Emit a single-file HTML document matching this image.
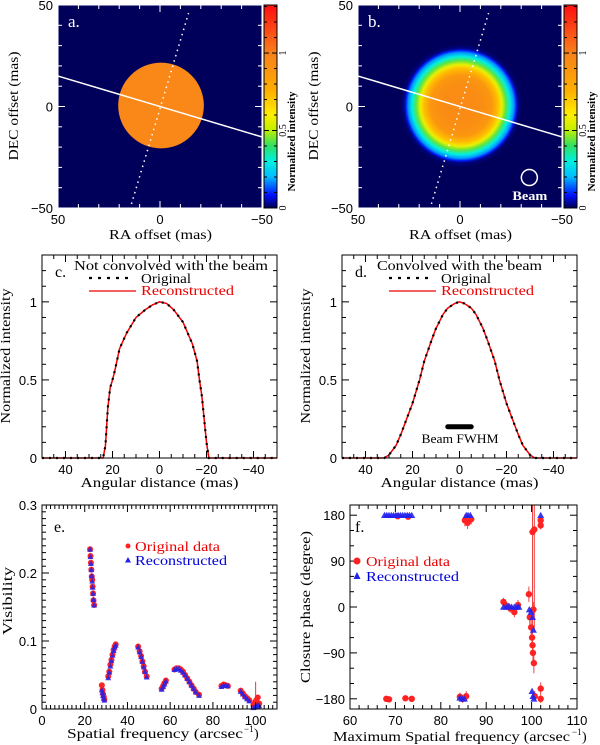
<!DOCTYPE html>
<html><head><meta charset="utf-8"><style>
body{margin:0;background:#fff;width:600px;height:745px;overflow:hidden}
svg{display:block}
text{font-family:"Liberation Serif",serif;fill:#000}
.tk{font-family:"Liberation Sans",sans-serif;font-size:13px}
</style></head><body>
<svg id="fig" width="600" height="745" viewBox="0 0 600 745" xmlns="http://www.w3.org/2000/svg"></svg>
<script>
// ---- data ----
const profCx = [50,40,30,25,24,23,22,21,20,19,17,14,10,6,3,0,-3,-6,-10,-14,-16,-17,-18,-19,-20,-21,-22,-30,-40,-50];
const profCy = [0,0,0,0,0,0.08,0.32,0.45,0.5,0.56,0.7,0.8,0.9,0.95,0.98,1,0.99,0.95,0.87,0.73,0.62,0.5,0.4,0.25,0.1,0,0,0,0,0];
const profDx = [50,40,35,32,30,27,25,22,20,17,15,12,10,7,5,2,0,-2,-5,-7,-10,-12,-15,-17,-20,-22,-25,-27,-30,-32,-35,-40,-50];
const profDy = [0,0,0,0,0.02,0.08,0.15,0.27,0.35,0.5,0.62,0.75,0.83,0.92,0.96,0.99,1,0.99,0.96,0.92,0.83,0.75,0.62,0.5,0.35,0.27,0.15,0.08,0.02,0,0,0,0];
const imgBr = [0,10,15,18,20,22,24,26,27,28,30];
const imgBv = [0.95,0.93,0.88,0.72,0.57,0.43,0.3,0.17,0.09,0.02,0];
const visFreq = [22.5,22.7,22.9,23.1,23.3,23.5,23.7,23.9,24.1,24.4, 28,28.3,28.6,28.9,29.2, 31,31.5,32,32.5,33,33.5,34,34.5, 45,45.7,46.4,47,47.6,48.2,49, 56,56.7,57.3,58, 62,63,64,65,66,67,68,69,70,71,72,73.5, 84,85,86,87, 93,94,95,96,97, 99,99.7,100.3,101,101.7];
const visOrig = [0.235,0.225,0.215,0.205,0.195,0.19,0.18,0.17,0.16,0.153, 0.035,0.028,0.022,0.018,0.014, 0.048,0.055,0.065,0.072,0.08,0.087,0.092,0.095, 0.092,0.085,0.078,0.07,0.063,0.055,0.048, 0.03,0.034,0.038,0.042, 0.058,0.06,0.06,0.058,0.055,0.05,0.045,0.04,0.035,0.03,0.025,0.021, 0.034,0.036,0.035,0.034, 0.027,0.023,0.019,0.016,0.013, 0.006,0.01,0.013,0.017,0.008];
const visRecon = [0.235,0.224,0.214,0.205,0.196,0.188,0.179,0.17,0.161,0.153, 0.028,0.024,0.02,0.016,0.013, 0.046,0.054,0.063,0.071,0.079,0.086,0.091,0.094, 0.091,0.084,0.077,0.07,0.062,0.055,0.047, 0.029,0.033,0.037,0.041, 0.058,0.059,0.059,0.057,0.054,0.05,0.045,0.04,0.035,0.03,0.025,0.02, 0.033,0.035,0.035,0.034, 0.026,0.022,0.018,0.015,0.012, 0.002,0.003,0.004,0.006,0.005];
const cpFreqO = [68,68.6,72.2,73.6,70.5,72.8,84.2,84.8,85.6,85.3,85.9,86.7,93.8,94.5,95.3,96.2,97,99.4,99.6,99.9,100.1,100.2,100.3,100.4,100.5,100.7,100.2,100.6,102,102,102,102];
const cpOrig = [-180,-181,-179,-180,178,177,-176,-180,-175,170,165,172,10,2,-3,-10,4,25,-20,-40,-60,-75,-90,-5,-110,-175,147,152,170,160,-160,-180];
const cpErr = [3,3,3,3,3,3,8,8,10,12,12,10,8,8,8,10,10,15,15,15,15,15,20,15,20,10,200,200,8,8,12,8];
const cpFreqR = [67.6,68.1,68.6,69.1,69.6,70.1,70.6,71.1,71.6,72.1,72.6,73.1,73.6,84.2,84.7,85.2,85.6,86,86.5,93.8,94.4,95,95.6,96.2,96.8,97.2,99.5,99.9,100.2,100.4,100.1,100.3,100.5,102];
const cpRecon = [180,180,180,180,180,180,180,180,180,180,180,180,180,-178,-180,-180,180,180,180,0,0,2,0,0,0,0,-5,-10,-20,-45,-165,-175,-180,180];
const cbTicks = [0,0.5,1];

const NS='http://www.w3.org/2000/svg';
const svg=document.getElementById('fig');
function el(tag,attrs,parent){const e=document.createElementNS(NS,tag);for(const k in attrs)e.setAttribute(k,attrs[k]);(parent||svg).appendChild(e);return e;}
function txt(s,attrs,parent,tl){const e=el('text',attrs,parent);e.textContent=s;if(tl){e.setAttribute('textLength',tl);e.setAttribute('lengthAdjust','spacingAndGlyphs');}return e;}
function scale(d0,d1,p0,p1){return v=>p0+(v-d0)*(p1-p0)/(d1-d0);}
const cmap=[[0,[0,0,90]],[0.08,[0,16,255]],[0.2,[0,190,255]],[0.3,[0,240,224]],[0.4,[48,224,96]],[0.5,[192,240,0]],[0.6,[255,238,0]],[0.75,[255,176,0]],[1.0,[248,128,28]],[1.3,[255,16,16]]];
function color(v){v=Math.max(0,Math.min(1.3,v));for(let i=1;i<cmap.length;i++){if(v<=cmap[i][0]){const a=cmap[i-1],b=cmap[i],t=(v-a[0])/(b[0]-a[0]);return 'rgb('+a[1].map((c,j)=>Math.round(c+(b[1][j]-c)*t)).join(',')+')';}}return 'rgb(255,16,16)';}

function ticks(g,L,R,T,B,sx,sy,xr,yr,xmaj,xmin,ymaj,ymin,col){
  const step=(a,b,s)=>{const o=[];const lo=Math.min(a,b),hi=Math.max(a,b);for(let v=Math.ceil(lo/s-1e-9)*s;v<=hi+1e-9;v+=s)o.push(+v.toFixed(6));return o;};
  step(xr[0],xr[1],xmin).forEach(v=>{const x=sx(v);const isM=Math.abs(v/xmaj-Math.round(v/xmaj))<1e-6;const l=isM?7:4;el('line',{x1:x,y1:B,x2:x,y2:B-l,stroke:col,'stroke-width':1},g);el('line',{x1:x,y1:T,x2:x,y2:T+l,stroke:col,'stroke-width':1},g);});
  step(yr[0],yr[1],ymin).forEach(v=>{const y=sy(v);const isM=Math.abs(v/ymaj-Math.round(v/ymaj))<1e-6;const l=isM?7:4;el('line',{x1:L,y1:y,x2:L+l,y2:y,stroke:col,'stroke-width':1},g);el('line',{x1:R,y1:y,x2:R-l,y2:y,stroke:col,'stroke-width':1},g);});
}
function labels(g,sx,sy,B,L,xs,ys,fmt){
  xs.forEach(v=>txt(fmt(v),{x:sx(v),y:B+16,'text-anchor':'middle',class:'tk'},g));
  ys.forEach(v=>txt(fmt(v),{x:L-5,y:sy(v)+5,'text-anchor':'end',class:'tk'},g));
}
const fm=v=>(v<0?'\u2212'+(-v):''+v);

// ---- image panels a, b ----
function imagePanel(off,name,conv){
  const L=58+off,R=262+off,T=5,B=208;
  const g=el('g',{},svg);
  
  
  const sx=scale(50,-50,L,R),sy=scale(-50,50,B,T);
  el('rect',{x:L,y:T,width:R-L,height:B-T,fill:color(0)},g);
  if(!conv){
    const d=el('circle',{cx:sx(-0.5),cy:sy(0.5),r:(sx(0)-sx(21)),fill:color(0.96)},g);
    
    
  } else {
    const gid='rg'+name;const defs=el('defs',{},g);
    const rg=el('radialGradient',{id:gid,cx:'50%',cy:'50%',r:'50%'},defs);
    const rmax=imgBr[imgBr.length-1];
    imgBr.forEach((r,i)=>el('stop',{offset:(r/rmax*100)+'%','stop-color':color(imgBv[i])},rg));
    const c=el('circle',{cx:sx(-0.5),cy:sy(0.5),r:(sx(0)-sx(rmax)),fill:'url(#'+gid+')'},g);
    
    
    const bm=el('circle',{cx:sx(-34),cy:sy(-35),r:8,fill:'none',stroke:'#fff','stroke-width':1.5},g);
    
    
    txt('Beam',{x:sx(-34)-17,y:sy(-46),'font-size':13,'font-weight':'bold',style:'fill:#fff'},g,35);
  }
  el('line',{x1:sx(50),y1:sy(15),x2:sx(-50),y2:sy(-15),stroke:'#fff','stroke-width':1.5},g);
  el('line',{x1:sx(14),y1:sy(-48),x2:sx(-14),y2:sy(46),stroke:'#fff','stroke-width':1.5,'stroke-dasharray':'1.5 4'},g);
  ticks(g,L,R,T,B,sx,sy,[50,-50],[-50,50],50,10,50,10,'#fff');
  el('rect',{x:L,y:T,width:R-L,height:B-T,fill:'none',stroke:'#fff','stroke-width':1},g);
  txt(name+'.',{x:L+10,y:T+22,'font-size':17,style:'fill:#fff'},g);
  labels(g,sx,sy,B,L,[50,0,-50],[-50,0,50],fm);
  txt('RA offset (mas)',{x:(L+R)/2-51,y:239,'font-size':14},g,103);
  txt('DEC offset (mas)',{x:-54,y:0,'font-size':14,transform:`translate(${L-40},${(T+B)/2}) rotate(-90)`},g,109);
  // colorbar
  const cL=264+off,cR=277+off;const cy=scale(0,1.31,B,T);
  const cb=el('g',{},g);
  
  
  for(let v=0;v<1.31;v+=0.01){el('rect',{x:cL,y:cy(v+0.01)-0.3,width:cR-cL,height:cy(v)-cy(v+0.01)+0.6,fill:color(v)},cb);}
  el('rect',{x:cL,y:T,width:cR-cL,height:B-T,fill:'none',stroke:'#000','stroke-width':1},cb);
  for(let v=0;v<=1.3;v+=0.1){const y=cy(v),l=Math.abs(v*2-Math.round(v*2))<1e-6?5:3;el('line',{x1:cL,y1:y,x2:cL+l,y2:y,stroke:'#000'},cb);el('line',{x1:cR,y1:y,x2:cR-l,y2:y,stroke:'#000'},cb);}
  cbTicks.forEach(v=>txt(''+v,{x:0,y:0,'text-anchor':'middle','font-size':10,transform:`translate(${cR+9},${cy(v)}) rotate(-90)`},cb));
  txt('Normalized intensity',{x:0,y:0,'text-anchor':'middle','font-size':10,'font-weight':'bold',transform:`translate(${cR+18},${(T+B)/2+35}) rotate(-90)`},cb,100);
}
imagePanel(0,'a',false);
imagePanel(300,'b',true);

// ---- profile panels c, d ----
function profPanel(off,name,title,tw,xs,ys,beam){
  const L=42+off,R=277+off,T=255,B=458;
  const g=el('g',{},svg);
  
  
  const sx=scale(50,-50,L,R),sy=scale(0,1.3,B,T);
  const pts=xs.map((x,i)=>sx(x)+','+sy(ys[i])).join(' ');
  const rl=el('polyline',{points:pts,fill:'none',stroke:'#e00','stroke-width':1.5},g);
  
  
  const ol=el('polyline',{points:pts,fill:'none',stroke:'#000','stroke-width':2.2,'stroke-dasharray':'2 5'},g);
  
  
  ticks(g,L,R,T,B,sx,sy,[50,-50],[0,1.3],20,5,0.5,0.1,'#000');
  el('rect',{x:L,y:T,width:R-L,height:B-T,fill:'none',stroke:'#000','stroke-width':1},g);
  labels(g,sx,sy,B,L,[40,20,0,-20,-40],[0,0.5,1],fm);
  txt('Angular distance (mas)',{x:(L+R)/2-79,y:487,'font-size':14},g,158);
  txt('Normalized intensity',{x:-67,y:0,'font-size':14,transform:`translate(${L-32},${(T+B)/2}) rotate(-90)`},g,135);
  txt(name+'.',{x:L+13,y:T+22,'font-size':16},g);
  txt(title,{x:L+(name==='c'?32:35),y:T+15,'font-size':14},g,tw);
  const lg=el('g',{},g);
  
  
  el('line',{x1:L+47,y1:T+23,x2:L+88,y2:T+23,stroke:'#000','stroke-width':2.2,'stroke-dasharray':'3 6'},lg);
  txt('Original',{x:L+99,y:T+28,'font-size':14},lg,50);
  el('line',{x1:L+47,y1:T+36,x2:L+94,y2:T+36,stroke:'#e00','stroke-width':1.2},lg);
  txt('Reconstructed',{x:L+99,y:T+40,'font-size':14,style:'fill:#e00'},lg,93);
  if(beam){
    const b=el('line',{x1:sx(5),y1:sy(0.2),x2:sx(-5),y2:sy(0.2),stroke:'#000','stroke-width':5,'stroke-linecap':'round'},g);
    
    
    txt('Beam FWHM',{x:sx(0)-38,y:sy(0.2)+16,'font-size':13},g,77);
  }
}
profPanel(0,'c','Not convolved with the beam',194,profCx,profCy,false);
profPanel(300,'d','Convolved with the beam',165,profDx,profDy,true);

// ---- visibility panel e ----
(function(){
  const L=42,R=277,T=505,B=709;
  const g=el('g',{},svg);
  
  
  const sx=scale(0,110,L,R),sy=scale(0,0.3,B,T);
  el('line',{x1:sx(100),y1:sy(0),x2:sx(100),y2:sy(0.04),stroke:'#e33','stroke-width':1},g);
  visFreq.forEach((f,i)=>{
    const c=el('circle',{cx:sx(f),cy:sy(visOrig[i]),r:3,fill:'#f22'},g);
    
    
  });
  visFreq.forEach((f,i)=>{
    const x=sx(f),y=sy(visRecon[i]);
    const t=el('polygon',{points:`${x},${y-3} ${x-3},${y+2.5} ${x+3},${y+2.5}`,fill:'#22e','fill-opacity':0.85},g);
    
    
  });
  ticks(g,L,R,T,B,sx,sy,[0,110],[0,0.3],20,2,0.1,0.01,'#000');
  el('rect',{x:L,y:T,width:R-L,height:B-T,fill:'none',stroke:'#000','stroke-width':1},g);
  labels(g,sx,sy,B,L,[0,20,40,60,80,100],[0,0.1,0.2,0.3],v=>''+v);
  txt('e.',{x:L+12,y:T+27,'font-size':16},g);
  txt('Spatial frequency (arcsec',{x:67,y:738,'font-size':14},g,176);
  txt('\u22121',{x:244,y:732,'font-size':9},g);
  txt(')',{x:254,y:738,'font-size':14},g);
  txt('Visibility',{x:-34,y:0,'font-size':14,transform:`translate(12,601) rotate(-90)`},g,68);
  const lg=el('g',{},g);
  
  
  el('circle',{cx:128,cy:546,r:2.5,fill:'#f22'},lg);
  txt('Original data',{x:135,y:551,'font-size':14,style:'fill:#e00'},lg,85);
  el('polygon',{points:'128,557 125,562.5 131,562.5',fill:'#22e'},lg);
  txt('Reconstructed',{x:135,y:565,'font-size':14,style:'fill:#00d'},lg,92);
})();

// ---- closure phase panel f ----
(function(){
  const L=350,R=577,T=505,B=709;
  const g=el('g',{},svg);
  
  
  const sx=scale(60,110,L,R),sy=scale(-200,200,B,T);
  const defs=el('defs',{},g);
  const cp=el('clipPath',{id:'cf'},defs);
  el('rect',{x:L,y:T,width:R-L,height:B-T},cp);
  const cg=el('g',{'clip-path':'url(#cf)'},g);
  cpFreqO.forEach((f,i)=>{
    el('line',{x1:sx(f),y1:sy(cpOrig[i]-cpErr[i]),x2:sx(f),y2:sy(cpOrig[i]+cpErr[i]),stroke:'#e44','stroke-width':1},cg);
  });
  cpFreqO.forEach((f,i)=>{
    const c=el('circle',{cx:sx(f),cy:sy(cpOrig[i]),r:3.2,fill:'#f22'},cg);
    
    
  });
  cpFreqR.forEach((f,i)=>{
    const x=sx(f),y=sy(cpRecon[i]);
    const t=el('polygon',{points:`${x},${y-3.5} ${x-3.5},${y+2.8} ${x+3.5},${y+2.8}`,fill:'#22e','fill-opacity':0.9},cg);
    
    
  });
  ticks(g,L,R,T,B,sx,sy,[60,110],[-200,200],10,2,90,30,'#000');
  el('rect',{x:L,y:T,width:R-L,height:B-T,fill:'none',stroke:'#000','stroke-width':1},g);
  labels(g,sx,sy,B,L,[60,70,80,90,100,110],[-180,-90,0,90,180],fm);
  txt('f.',{x:L+5,y:T+27,'font-size':16},g);
  txt('Maximum Spatial frequency (arcsec',{x:333,y:741,'font-size':14},g,237);
  txt('\u22121',{x:572,y:735,'font-size':9},g);
  txt(')',{x:582,y:741,'font-size':14},g);
  txt('Closure phase (degree)',{x:-76,y:0,'font-size':14,transform:`translate(310,607) rotate(-90)`},g,152);
  const lg=el('g',{},g);
  
  
  el('circle',{cx:357,cy:561,r:3.5,fill:'#f22'},lg);
  txt('Original data',{x:366,y:566,'font-size':14,style:'fill:#e00'},lg,84);
  el('polygon',{points:'357,572 353.5,579 360.5,579',fill:'#22e'},lg);
  txt('Reconstructed',{x:366,y:581,'font-size':14,style:'fill:#00d'},lg,93);
})();
</script>
</body></html>
